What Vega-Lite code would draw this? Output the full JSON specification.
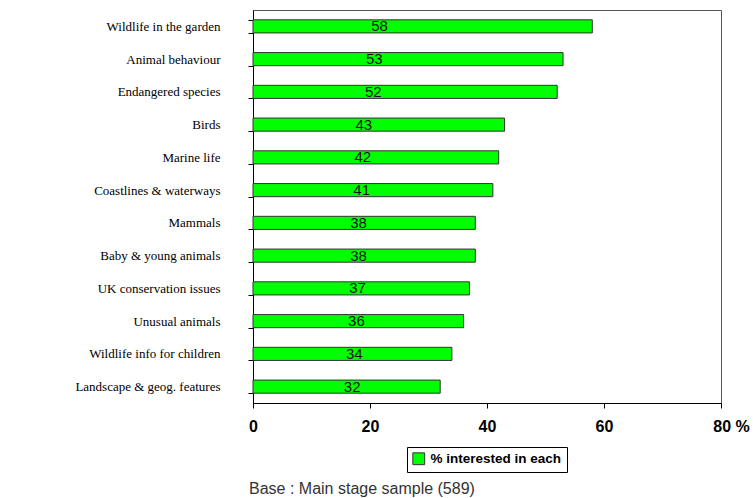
{
  "$schema": "https://vega.github.io/schema/vega-lite/v6.json",
  "width": 468,
  "height": 393,
  "autosize": "none",
  "padding": {"left": 253, "top": 10, "right": 33, "bottom": 95},
  "background": "white",
  "config": {
    "view": {"stroke": "#555", "strokeWidth": 1},
    "axis": {"grid": false}
  },
  "data": {
    "values": [
      {"topic": "Wildlife in the garden", "value": 58},
      {"topic": "Animal behaviour", "value": 53},
      {"topic": "Endangered species", "value": 52},
      {"topic": "Birds", "value": 43},
      {"topic": "Marine life", "value": 42},
      {"topic": "Coastlines & waterways", "value": 41},
      {"topic": "Mammals", "value": 38},
      {"topic": "Baby & young animals", "value": 38},
      {"topic": "UK conservation issues", "value": 37},
      {"topic": "Unusual animals", "value": 36},
      {"topic": "Wildlife info for children", "value": 34},
      {"topic": "Landscape & geog. features", "value": 32}
    ]
  },
  "title": {
    "text": "Base : Main stage sample (589)",
    "orient": "bottom",
    "anchor": "start",
    "frame": "group",
    "font": "Liberation Sans",
    "fontSize": 16,
    "fontWeight": "normal",
    "color": "#333",
    "dx": -4,
    "dy": 4
  },
  "encoding": {
    "y": {
      "field": "topic",
      "type": "nominal",
      "sort": null,
      "scale": {"paddingInner": 0.6, "paddingOuter": 0.3},
      "axis": {
        "title": null,
        "tickBand": "extent",
        "tickSize": 5,
        "domainColor": "black",
        "tickColor": "black",
        "labelFont": "Liberation Serif",
        "labelFontSize": 13,
        "labelColor": "black",
        "labelPadding": 28,
        "labelLimit": 300
      }
    }
  },
  "layer": [
    {
      "mark": {"type": "bar", "stroke": "#333", "strokeWidth": 1},
      "encoding": {
        "x": {
          "field": "value",
          "type": "quantitative",
          "scale": {"domain": [0, 80], "nice": false},
          "axis": {
            "values": [0, 20, 40, 60, 80],
            "title": null,
            "domainColor": "black",
            "tickColor": "black",
            "tickSize": 5,
            "labelFont": "Liberation Sans",
            "labelFontSize": 16,
            "labelFontWeight": "bold",
            "labelColor": "black",
            "labelPadding": 10,
            "labelFlush": false,
            "labelOverlap": false,
            "labelExpr": "datum.value == 80 ? '80 %' : datum.label",
            "labelOffset": {"condition": {"test": "datum.value == 80", "value": 10}, "value": 0}
          }
        },
        "color": {
          "datum": "% interested in each",
          "type": "nominal",
          "scale": {"range": ["#00ff00"]},
          "legend": {
            "orient": "none",
            "legendX": 154,
            "legendY": 437,
            "title": null,
            "strokeColor": "black",
            "padding": 5,
            "symbolType": "square",
            "symbolSize": 140,
            "symbolStrokeColor": "#333",
            "symbolStrokeWidth": 1,
            "symbolOpacity": 1,
            "labelFont": "Liberation Sans",
            "labelFontSize": 13.5,
            "labelFontWeight": "bold",
            "labelColor": "black",
            "labelOffset": 5
          }
        }
      }
    },
    {
      "transform": [{"calculate": "datum.value * 0.18 + 11.2", "as": "lx"}],
      "mark": {"type": "text", "font": "Liberation Sans", "fontSize": 15, "color": "#111", "baseline": "middle", "align": "center"},
      "encoding": {
        "x": {"field": "lx", "type": "quantitative"},
        "text": {"field": "value", "type": "quantitative"}
      }
    }
  ]
}
